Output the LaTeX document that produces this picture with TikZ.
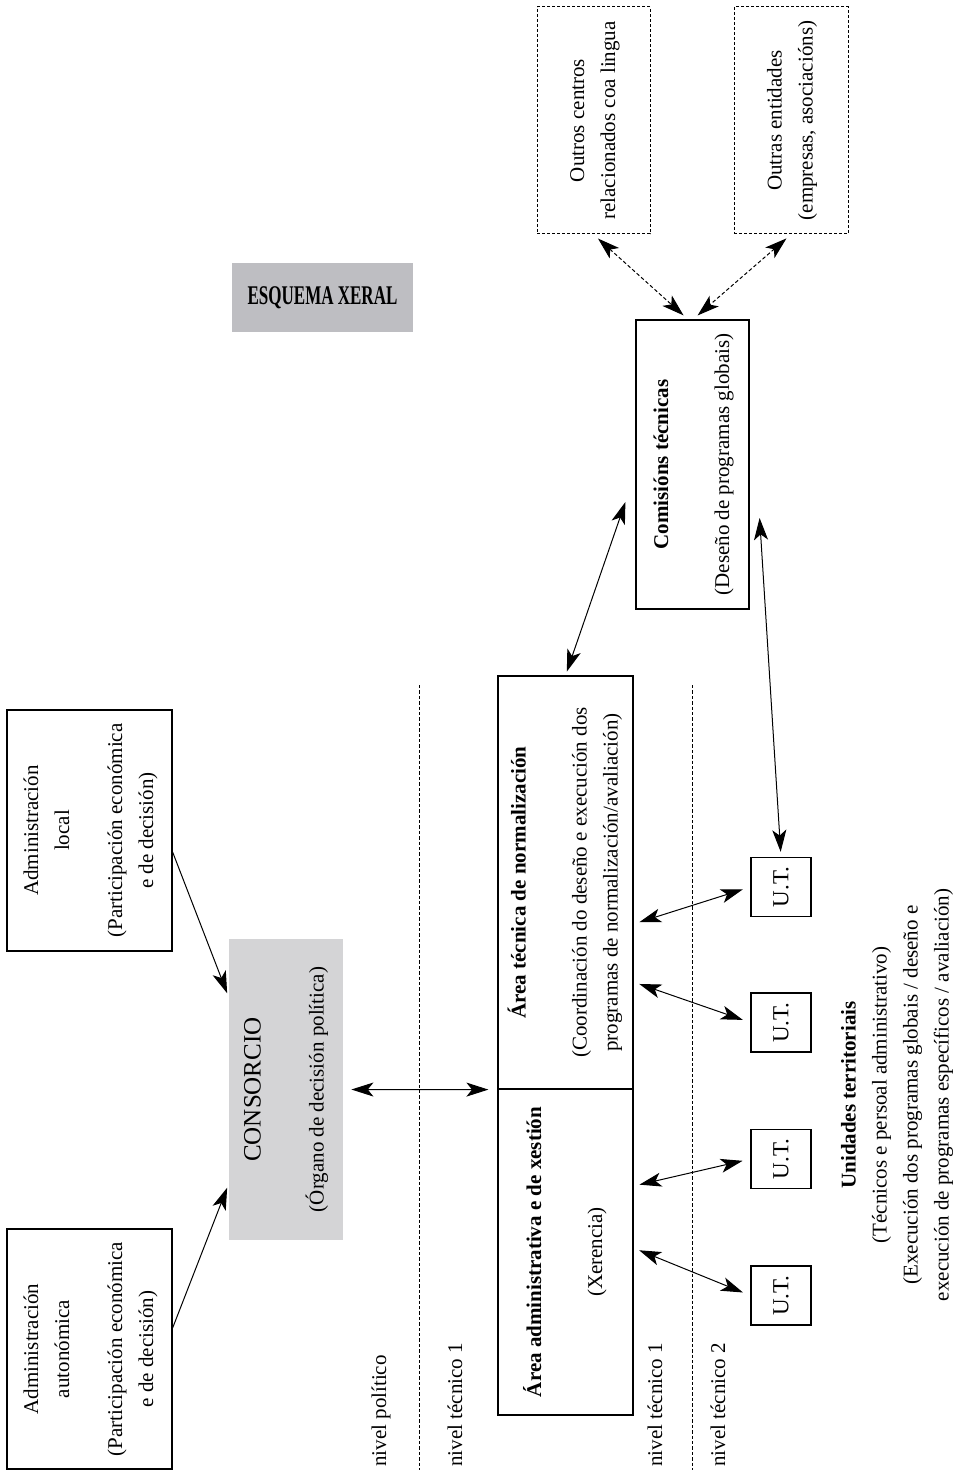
\documentclass[tikz,border=0pt]{standalone}
\usepackage{fontspec}
\setmainfont{Liberation Serif}
\usepackage{graphicx}
\usetikzlibrary{arrows.meta,calc}

\definecolor{consgray}{RGB}{212,212,214}
\definecolor{titlegray}{RGB}{190,190,194}

\newcommand{\vtext}[1]{\rotatebox{90}{\begin{tabular}{@{}c@{}}#1\end{tabular}}}

\tikzset{
  box/.style={draw, line width=0.6pt, inner sep=0pt},
  dbox/.style={draw, line width=0.5pt, dash pattern=on 1.5pt off 1pt, inner sep=0pt},
  link/.style={line width=0.5pt, {Stealth[length=11pt,width=7pt,inset=2.8pt]}-{Stealth[length=11pt,width=7pt,inset=2.8pt]}},
  dlink/.style={link, dash pattern=on 1.8pt off 1.2pt},
  oneway/.style={line width=0.5pt, -{Stealth[length=11pt,width=7pt,inset=2.8pt]}},
  sep/.style={line width=0.5pt, dash pattern=on 1.7pt off 1pt},
  level/.style={anchor=south, inner sep=0pt}
}

\begin{document}
\begin{tikzpicture}[x=0.5pt,y=-0.5pt,every node/.style={font=\fontsize{10.5}{15.5}\selectfont}]
\useasboundingbox (0,0) rectangle (958,1470);

\node[fill=titlegray, minimum width=90.5pt, minimum height=34.5pt, inner sep=0pt] (titulo) at (322.5,297.5) {\fontsize{13.5}{16}\selectfont\bfseries\scalebox{0.63}[1]{ESQUEMA XERAL}};

\node[box, minimum width=82.5pt, minimum height=120.5pt] (local) at (89.5,830.5)
  {\vtext{Administración\\local\\[11pt](Participación económica\\e de decisión)}};
\node[box, minimum width=82.5pt, minimum height=120pt] (auto) at (89.5,1349)
  {\vtext{Administración\\autonómica\\[11pt](Participación económica\\e de decisión)}};

\node[fill=consgray, minimum width=57pt, minimum height=150.5pt, inner sep=0pt] (consorcio) at (286,1089.5)
  {\vtext{{\fontsize{12.5}{15.5}\selectfont CONSORCIO}\\[16pt](Órgano de decisión política)}};

\draw[sep] (419,685) -- (419,1470);
\draw[sep] (692,685) -- (692,1470);

\node[level] (npol) at (381,1467) {\rotatebox{90}{nivel político}};
\node[level] (ntec) at (455,1467) {\rotatebox{90}{nivel técnico 1}};
\node[level] (ntecb) at (655,1467) {\rotatebox{90}{nivel técnico 1}};
\node[level] (ntecc) at (718,1467) {\rotatebox{90}{nivel técnico 2}};

\node[box, minimum width=67.5pt, minimum height=206.5pt] (tecnica) at (565.5,882.5)
  {\vtext{\textbf{Área técnica de normalización}\\[15pt](Coordinación do deseño e execución dos\\programas de normalización/avaliación)}};
\node[box, minimum width=67.5pt, minimum height=163pt] (xestion) at (565.5,1252)
  {\vtext{\textbf{Área administrativa e de xestión}\\[15pt](Xerencia)}};

\node[box, minimum width=56.5pt, minimum height=144.5pt] (comis) at (692.5,464.5)
  {\vtext{\textbf{Comisións técnicas}\\[15pt](Deseño de programas globais)}};

\node[dbox, minimum width=56.5pt, minimum height=113.5pt] (outros) at (593.5,120.5)
  {\vtext{Outros centros\\relacionados coa lingua}};
\node[dbox, minimum width=57pt, minimum height=113.5pt] (outras) at (791,120.5)
  {\vtext{Outras entidades\\(empresas, asociacións)}};

\foreach \i/\y in {1/887,2/1022.5,3/1159,4/1295.5}
  \node[box, minimum width=30pt, minimum height=29.5pt] (ut\i) at (781,\y) {\rotatebox{90}{\fontsize{11.5}{14}\selectfont U.T.}};

\node (unidades) at (896,1095)
  {\vtext{\textbf{Unidades territoriais}\\(Técnicos e persoal administrativo)\\(Execución dos programas globais / deseño e\\execución de programas específicos / avaliación)}};

\draw[oneway, shorten >=2pt] ($(local.east)+(0,21.5)$) -- ($(consorcio.west)+(0,-92.5)$);
\draw[oneway, shorten >=2pt] ($(auto.east)+(0,-21)$) -- ($(consorcio.west)+(0,94.5)$);
\draw[link, shorten <=4pt, shorten >=4.5pt] (consorcio.east) -- (tecnica.south west);

\draw[dlink, shorten <=3pt, shorten >=3pt] (outros.south) -- ($(comis.north)+(-4.5,0)$);
\draw[dlink, shorten <=3pt, shorten >=3pt] (outras.south) -- ($(comis.north)+(0.5,0)$);
\draw[link, shorten >=2pt] ($(comis.west)+(-10,37.5)$) -- (tecnica.north);
\draw[link, shorten >=2.5pt] ($(comis.east)+(10,53.5)$) -- (ut1.north);

\draw[link, shorten <=3pt, shorten >=4pt] ($(tecnica.east)+(0,41.5)$) -- (ut1.west);
\draw[link, shorten <=3pt, shorten >=4pt] ($(tecnica.east)+(0,99.5)$) -- (ut2.west);
\draw[link, shorten <=3pt, shorten >=4pt] ($(xestion.east)+(0,-66)$) -- (ut3.west);
\draw[link, shorten <=3pt, shorten >=4pt] ($(xestion.east)+(0,-4)$) -- (ut4.west);
\end{tikzpicture}
\end{document}
